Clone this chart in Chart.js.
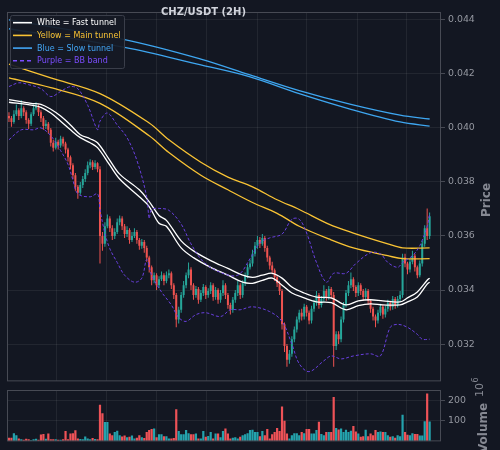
<!DOCTYPE html>
<html>
<head>
<meta charset="utf-8">
<script src="https://cdn.jsdelivr.net/npm/chart.js@4.4.1/dist/chart.umd.min.js"></script>
<style>
  html, body { margin: 0; padding: 0; background: #131722; }
  #wrap { position: relative; width: 500px; height: 450px; overflow: hidden; background: #131722; }
  #price-chart { position: absolute; left: 0; top: 0; }
  #volume-chart { position: absolute; left: 0; top: 368px; }
</style>
</head>
<body>
<div id="wrap">
  <canvas id="price-chart" width="500" height="390"></canvas>
  <canvas id="volume-chart" width="500" height="82"></canvas>
</div>
<script>
// Candles (CHZ/USDT, 2H), open of each candle = previous close
const firstOpen = 0.04044;
const closes = [
  0.04036, 0.04022, 0.04051, 0.04065, 0.04044, 0.04073, 0.04058, 0.04029, 0.04015, 0.04051,
  0.04073, 0.04080, 0.04058, 0.04036, 0.04007, 0.04015, 0.03993, 0.03945, 0.03927, 0.03949,
  0.03935, 0.03960, 0.03942, 0.03920, 0.03891, 0.03862, 0.03825, 0.03782, 0.03760, 0.03789,
  0.03811, 0.03833, 0.03862, 0.03873, 0.03855, 0.03869, 0.03847, 0.03600, 0.03571, 0.03636,
  0.03665, 0.03629, 0.03600, 0.03615, 0.03651, 0.03665, 0.03636, 0.03607, 0.03622, 0.03585,
  0.03600, 0.03615, 0.03585, 0.03564, 0.03578, 0.03556, 0.03520, 0.03484, 0.03436, 0.03455,
  0.03418, 0.03440, 0.03455, 0.03433, 0.03455, 0.03462, 0.03418, 0.03382, 0.03291, 0.03327,
  0.03382, 0.03418, 0.03455, 0.03476, 0.03418, 0.03382, 0.03404, 0.03364, 0.03389, 0.03411,
  0.03382, 0.03396, 0.03418, 0.03374, 0.03400, 0.03364, 0.03389, 0.03418, 0.03382, 0.03345,
  0.03327, 0.03364, 0.03389, 0.03418, 0.03382, 0.03425, 0.03455, 0.03484, 0.03498, 0.03534,
  0.03564, 0.03585, 0.03571, 0.03593, 0.03556, 0.03520, 0.03491, 0.03473, 0.03447, 0.03425,
  0.03396, 0.03273, 0.03193, 0.03142, 0.03164, 0.03218, 0.03254, 0.03291, 0.03316, 0.03302,
  0.03338, 0.03316, 0.03287, 0.03331, 0.03353, 0.03382, 0.03345, 0.03367, 0.03396, 0.03374,
  0.03404, 0.03382, 0.03193, 0.03236, 0.03218, 0.03291, 0.03345, 0.03389, 0.03418, 0.03440,
  0.03411, 0.03389, 0.03418, 0.03396, 0.03374, 0.03396, 0.03360, 0.03331, 0.03302, 0.03287,
  0.03316, 0.03338, 0.03309, 0.03331, 0.03353, 0.03338, 0.03367, 0.03345, 0.03367, 0.03382,
  0.03520, 0.03498, 0.03476, 0.03505, 0.03527, 0.03484, 0.03455, 0.03498, 0.03571, 0.03629,
  0.03600, 0.03673
];
const highs = [
  0.04058, 0.04044, 0.04065, 0.04087, 0.04073, 0.04102, 0.04080, 0.04065, 0.04036, 0.04058,
  0.04087, 0.04095, 0.04087, 0.04065, 0.04044, 0.04029, 0.04022, 0.04000, 0.03956, 0.03964,
  0.03956, 0.03971, 0.03967, 0.03949, 0.03927, 0.03898, 0.03869, 0.03833, 0.03789, 0.03800,
  0.03822, 0.03847, 0.03876, 0.03884, 0.03880, 0.03880, 0.03873, 0.03858, 0.03615, 0.03651,
  0.03680, 0.03673, 0.03640, 0.03629, 0.03665, 0.03676, 0.03673, 0.03644, 0.03636, 0.03629,
  0.03615, 0.03629, 0.03622, 0.03593, 0.03589, 0.03585, 0.03564, 0.03527, 0.03491, 0.03465,
  0.03462, 0.03451, 0.03469, 0.03462, 0.03469, 0.03476, 0.03469, 0.03425, 0.03389, 0.03338,
  0.03393, 0.03433, 0.03465, 0.03502, 0.03484, 0.03425, 0.03415, 0.03411, 0.03400, 0.03422,
  0.03418, 0.03407, 0.03429, 0.03425, 0.03411, 0.03407, 0.03400, 0.03436, 0.03425, 0.03389,
  0.03353, 0.03374, 0.03400, 0.03433, 0.03425, 0.03436, 0.03465, 0.03495, 0.03513, 0.03549,
  0.03578, 0.03600, 0.03596, 0.03607, 0.03600, 0.03564, 0.03527, 0.03505, 0.03480, 0.03455,
  0.03433, 0.03404, 0.03280, 0.03200, 0.03178, 0.03229, 0.03265, 0.03302, 0.03327, 0.03331,
  0.03349, 0.03345, 0.03324, 0.03342, 0.03364, 0.03396, 0.03389, 0.03378, 0.03418, 0.03404,
  0.03415, 0.03411, 0.03393, 0.03247, 0.03247, 0.03302, 0.03356, 0.03400, 0.03433, 0.03465,
  0.03447, 0.03418, 0.03429, 0.03425, 0.03404, 0.03407, 0.03404, 0.03367, 0.03338, 0.03309,
  0.03327, 0.03349, 0.03345, 0.03342, 0.03364, 0.03360, 0.03378, 0.03374, 0.03378, 0.03396,
  0.03534, 0.03534, 0.03505, 0.03516, 0.03545, 0.03534, 0.03491, 0.03509, 0.03582, 0.03640,
  0.03702, 0.03687
];
const lows = [
  0.04022, 0.04004, 0.04015, 0.04044, 0.04029, 0.04036, 0.04044, 0.04015, 0.03996, 0.04007,
  0.04044, 0.04065, 0.04044, 0.04022, 0.03993, 0.03996, 0.03978, 0.03931, 0.03913, 0.03920,
  0.03920, 0.03927, 0.03931, 0.03905, 0.03876, 0.03847, 0.03811, 0.03767, 0.03738, 0.03753,
  0.03778, 0.03800, 0.03825, 0.03851, 0.03844, 0.03847, 0.03836, 0.03498, 0.03545, 0.03560,
  0.03629, 0.03615, 0.03585, 0.03589, 0.03607, 0.03640, 0.03622, 0.03593, 0.03596, 0.03571,
  0.03578, 0.03593, 0.03571, 0.03549, 0.03553, 0.03538, 0.03505, 0.03465, 0.03418, 0.03425,
  0.03400, 0.03407, 0.03433, 0.03418, 0.03425, 0.03444, 0.03404, 0.03367, 0.03262, 0.03276,
  0.03316, 0.03371, 0.03407, 0.03444, 0.03400, 0.03364, 0.03371, 0.03349, 0.03356, 0.03378,
  0.03367, 0.03371, 0.03385, 0.03360, 0.03364, 0.03349, 0.03353, 0.03378, 0.03367, 0.03331,
  0.03309, 0.03316, 0.03353, 0.03378, 0.03367, 0.03371, 0.03415, 0.03444, 0.03476, 0.03487,
  0.03524, 0.03553, 0.03556, 0.03564, 0.03542, 0.03505, 0.03476, 0.03458, 0.03433, 0.03411,
  0.03382, 0.03254, 0.03171, 0.03116, 0.03127, 0.03153, 0.03207, 0.03243, 0.03280, 0.03287,
  0.03291, 0.03302, 0.03273, 0.03276, 0.03320, 0.03342, 0.03331, 0.03335, 0.03356, 0.03360,
  0.03364, 0.03367, 0.03116, 0.03178, 0.03200, 0.03207, 0.03280, 0.03335, 0.03378, 0.03407,
  0.03396, 0.03374, 0.03378, 0.03382, 0.03360, 0.03364, 0.03345, 0.03316, 0.03287, 0.03262,
  0.03276, 0.03305, 0.03294, 0.03298, 0.03320, 0.03324, 0.03327, 0.03331, 0.03335, 0.03356,
  0.03371, 0.03484, 0.03458, 0.03465, 0.03495, 0.03469, 0.03444, 0.03447, 0.03487, 0.03560,
  0.03585, 0.03589
];
// Volume in millions
const volumes = [
  17, 17, 40, 30, 14, 10, 8, 13, 10, 5,
  10, 13, 8, 33, 36, 13, 38, 10, 10, 10,
  8, 8, 10, 50, 10, 38, 40, 54, 14, 12,
  10, 24, 14, 10, 16, 12, 10, 178, 137, 94,
  94, 38, 30, 46, 52, 30, 24, 28, 20, 22,
  28, 14, 18, 30, 20, 16, 45, 55, 60, 62,
  20, 35, 35, 25, 25, 14, 14, 16, 156, 50,
  35, 35, 55, 40, 35, 35, 38, 14, 14, 50,
  22, 26, 46, 14, 38, 38, 20, 50, 62, 38,
  14, 18, 20, 14, 22, 30, 35, 40, 55, 57,
  46, 46, 25, 50, 30, 60, 14, 35, 46, 65,
  50, 170, 100, 38, 14, 30, 40, 40, 30, 46,
  40, 60, 60, 38, 38, 55, 96, 36, 30, 46,
  46, 46, 216, 65, 58, 62, 46, 56, 46, 52,
  75, 48, 38, 22, 25, 56, 25, 38, 30, 55,
  46, 48, 46, 46, 30, 22, 25, 18, 30, 25,
  130, 46, 32, 30, 40, 36, 36, 28, 28, 98,
  233, 97
];

// Fast tunnel (white): candle index and the two edges
const fastIdx = [0, 9, 13, 17, 21, 25, 29, 33, 36, 41, 45, 53, 57, 61, 64, 70, 75, 82, 89, 95, 99, 103, 107, 111, 115, 120, 125, 131, 137, 142, 147, 152, 159, 162, 166, 170, 171];
const fastHi = [0.04105, 0.04091, 0.04087, 0.04069, 0.04044, 0.04011, 0.03975, 0.03960, 0.03945, 0.03880, 0.03829, 0.03771, 0.03727, 0.03676, 0.03658, 0.03582, 0.03545, 0.03509, 0.03480, 0.03455, 0.03447, 0.03455, 0.03462, 0.03444, 0.03411, 0.03389, 0.03374, 0.03371, 0.03345, 0.03360, 0.03364, 0.03360, 0.03356, 0.03371, 0.03393, 0.03436, 0.03444];
const fastLo = [0.04095, 0.04084, 0.04076, 0.04055, 0.04025, 0.03993, 0.03964, 0.03945, 0.03927, 0.03862, 0.03811, 0.03745, 0.03709, 0.03647, 0.03636, 0.03556, 0.03520, 0.03484, 0.03455, 0.03429, 0.03425, 0.03436, 0.03444, 0.03418, 0.03389, 0.03371, 0.03356, 0.03353, 0.03327, 0.03342, 0.03349, 0.03345, 0.03345, 0.03356, 0.03374, 0.03422, 0.03429];

// Main tunnel (yellow)
const mainIdx = [0, 17, 37, 57, 65, 78, 89, 99, 109, 118, 130, 140, 154, 160, 171];
const mainHi = [0.04236, 0.04185, 0.04127, 0.04018, 0.03956, 0.03873, 0.03818, 0.03782, 0.03734, 0.03698, 0.03644, 0.03611, 0.03571, 0.03556, 0.03556];
const mainLo = [0.04185, 0.04149, 0.04091, 0.03971, 0.03909, 0.03825, 0.03771, 0.03724, 0.03684, 0.03636, 0.03589, 0.03556, 0.03527, 0.03516, 0.03516];

// Slow tunnel (blue)
const slowIdx = [0, 47, 78, 98, 118, 139, 159, 171];
const slowHi = [0.04400, 0.04327, 0.04255, 0.04196, 0.04138, 0.04087, 0.04047, 0.04033];
const slowLo = [0.04367, 0.04298, 0.04233, 0.04189, 0.04127, 0.04069, 0.04022, 0.04007];

// Bollinger band (purple, dashed)
const bbUpIdx = [0, 4, 8, 13, 17, 21, 25, 28, 32, 36, 37, 40, 44, 48, 52, 56, 57, 58, 61, 65, 70, 74, 79, 86, 93, 98, 102, 106, 111, 115, 118, 121, 125, 129, 132, 137, 141, 147, 151, 154, 158, 160, 164, 167, 170, 171];
const bbUpper = [0.04153, 0.04167, 0.04160, 0.04145, 0.04116, 0.04135, 0.04153, 0.04145, 0.04084, 0.03993, 0.04025, 0.04055, 0.04011, 0.03964, 0.03880, 0.03745, 0.03665, 0.03698, 0.03702, 0.03695, 0.03644, 0.03571, 0.03505, 0.03465, 0.03455, 0.03516, 0.03575, 0.03593, 0.03607, 0.03662, 0.03662, 0.03611, 0.03502, 0.03429, 0.03462, 0.03462, 0.03498, 0.03538, 0.03534, 0.03502, 0.03484, 0.03502, 0.03527, 0.03564, 0.03636, 0.03680];
const bbLowIdx = [0, 5, 10, 13, 17, 21, 24, 26, 28, 33, 36, 37, 39, 41, 44, 47, 51, 54, 56, 58, 62, 66, 69, 72, 76, 80, 86, 90, 94, 99, 106, 111, 115, 118, 122, 128, 131, 135, 140, 147, 151, 155, 158, 162, 166, 168, 171];
const bbLower = [0.03956, 0.03993, 0.03993, 0.04000, 0.03971, 0.03916, 0.03865, 0.03807, 0.03756, 0.03745, 0.03756, 0.03698, 0.03611, 0.03553, 0.03502, 0.03455, 0.03429, 0.03444, 0.03513, 0.03455, 0.03393, 0.03345, 0.03298, 0.03284, 0.03309, 0.03316, 0.03302, 0.03327, 0.03327, 0.03338, 0.03320, 0.03284, 0.03200, 0.03127, 0.03098, 0.03138, 0.03156, 0.03145, 0.03156, 0.03164, 0.03156, 0.03262, 0.03273, 0.03262, 0.03236, 0.03218, 0.03218];

// Axis ticks
const priceTicks = [0.032, 0.034, 0.036, 0.038, 0.040, 0.042, 0.044];
const volumeTicks = [100, 200];

// Chart colors
const colors = {
  bg: '#131722',
  up: '#26a69a',
  down: '#ef5350',
  volUp: '#24a3ad',
  volDown: '#ee5257',
  fast: '#ffffff',
  main: '#f9c334',
  slow: '#3ea6f0',
  bb: '#6a40e0',
  text: '#9598a1',
  label: '#868993',
  title: '#d1d4dc',
  grid: 'rgba(255, 255, 255, 0.065)',
  frame: '#474a54'
};

const legendItems = [
  { text: 'White = Fast tunnel', color: '#ffffff', dash: [] },
  { text: 'Yellow = Main tunnel', color: colors.main, dash: [] },
  { text: 'Blue = Slow tunnel', color: '#42a5f5', dash: [] },
  { text: 'Purple = BB band', color: '#7c4dff', dash: [4, 3] }
];

Chart.defaults.font.family = "'DejaVu Sans', sans-serif";
Chart.defaults.color = colors.text;

// x axis: candle index, 2.46 px per candle across a 434 px plot
const xMin = -0.8;
const xMax = xMin + 434 / 2.46;
const gridStep = 50 / 2.46;
const xGrid = [];
for (let k = 1; k <= 8; k++) xGrid.push(xMin + k * gridStep);

const opens = closes.map((c, i) => (i === 0 ? firstOpen : closes[i - 1]));
const isUp = closes.map((c, i) => c >= opens[i]);
const candleColors = isUp.map(u => (u ? colors.up : colors.down));
const volumeColors = isUp.map(u => (u ? colors.volUp : colors.volDown));

function lineSet(idx, values, color, width, dash) {
  return {
    type: 'line',
    data: idx.map((x, k) => ({ x: x, y: values[k] })),
    borderColor: color,
    borderWidth: width,
    borderDash: dash || [],
    pointRadius: 0,
    tension: 0.35,
    fill: false,
    order: 1
  };
}

function xScale() {
  return {
    type: 'linear',
    min: xMin,
    max: xMax,
    offset: false,
    grid: { offset: false, color: colors.grid, drawTicks: false },
    border: { display: false },
    ticks: { display: false },
    afterBuildTicks: (scale) => { scale.ticks = xGrid.map(v => ({ value: v })); },
    afterFit: (scale) => { scale.height = 0; }
  };
}

function drawRotated(ctx, text, x, y, font, color) {
  ctx.save();
  ctx.translate(x, y);
  ctx.rotate(-Math.PI / 2);
  ctx.font = font;
  ctx.fillStyle = color;
  ctx.textAlign = 'center';
  ctx.textBaseline = 'middle';
  ctx.fillText(text, 0, 0);
  ctx.restore();
}

// Frame, title, legend and axis label for the price panel
const priceDecor = {
  id: 'priceDecor',
  afterDraw(chart) {
    const ctx = chart.ctx;
    const a = chart.chartArea;
    ctx.save();
    ctx.strokeStyle = colors.frame;
    ctx.lineWidth = 1;
    ctx.strokeRect(a.left + 0.5, a.top + 0.5, a.right - a.left - 1, a.bottom - a.top - 1);

    ctx.font = "bold 10px 'DejaVu Sans'";
    ctx.fillStyle = colors.title;
    ctx.textAlign = 'center';
    ctx.textBaseline = 'alphabetic';
    ctx.fillText('CHZ/USDT (2H)', 203.5, 14.5);

    // legend box
    ctx.fillStyle = 'rgba(22, 26, 37, 0.92)';
    ctx.strokeStyle = '#3a3e4a';
    ctx.beginPath();
    ctx.roundRect(10.5, 15.5, 114, 53, 2);
    ctx.fill();
    ctx.stroke();
    ctx.font = "8px 'DejaVu Sans'";
    ctx.textAlign = 'left';
    ctx.textBaseline = 'middle';
    legendItems.forEach((item, k) => {
      const y = 22.7 + k * 12.7;
      ctx.strokeStyle = item.color;
      ctx.lineWidth = 1.6;
      ctx.setLineDash(item.dash);
      ctx.beginPath();
      ctx.moveTo(13, y);
      ctx.lineTo(32, y);
      ctx.stroke();
      ctx.setLineDash([]);
      ctx.fillStyle = item.color;
      ctx.fillText(item.text, 37, y + 0.5);
    });
    ctx.restore();

    drawRotated(ctx, 'Price', 487, 200, "bold 12px 'DejaVu Sans'", colors.label);
  }
};

// Frame and labels for the volume panel
const volumeDecor = {
  id: 'volumeDecor',
  afterDraw(chart) {
    const ctx = chart.ctx;
    const a = chart.chartArea;
    ctx.save();
    ctx.strokeStyle = colors.frame;
    ctx.lineWidth = 1;
    ctx.strokeRect(a.left + 0.5, a.top + 0.5, a.right - a.left - 1, a.bottom - a.top - 1);
    ctx.restore();

    drawRotated(ctx, 'Volume', 484, 60, "bold 12px 'DejaVu Sans'", colors.label);

    // offset text 10^6
    ctx.save();
    ctx.translate(483, 29);
    ctx.rotate(-Math.PI / 2);
    ctx.fillStyle = colors.label;
    ctx.textAlign = 'left';
    ctx.textBaseline = 'alphabetic';
    ctx.font = "11px 'DejaVu Sans'";
    ctx.fillText('10', 0, 0);
    const w = ctx.measureText('10').width;
    ctx.font = "8px 'DejaVu Sans'";
    ctx.fillText('6', w + 0.5, -5);
    ctx.restore();
  }
};

// Price panel
new Chart(document.getElementById('price-chart'), {
  type: 'bar',
  data: {
    datasets: [
      lineSet(bbUpIdx, bbUpper, colors.bb, 1, [3, 2]),
      lineSet(bbLowIdx, bbLower, colors.bb, 1, [3, 2]),
      lineSet(slowIdx, slowHi, colors.slow, 1.3),
      lineSet(slowIdx, slowLo, colors.slow, 1.3),
      lineSet(mainIdx, mainHi, colors.main, 1.3),
      lineSet(mainIdx, mainLo, colors.main, 1.3),
      lineSet(fastIdx, fastHi, colors.fast, 1.3),
      lineSet(fastIdx, fastLo, colors.fast, 1.3),
      {
        type: 'bar',
        data: closes.map((c, i) => ({ x: i, y: [opens[i], c] })),
        backgroundColor: candleColors,
        borderWidth: 0,
        barThickness: 2,
        grouped: false,
        inflateAmount: 0,
        order: 2
      },
      {
        type: 'bar',
        data: closes.map((c, i) => ({ x: i, y: [lows[i], highs[i]] })),
        backgroundColor: candleColors,
        borderWidth: 0,
        barThickness: 1,
        grouped: false,
        inflateAmount: 0,
        order: 3
      }
    ]
  },
  options: {
    responsive: false,
    animation: false,
    layout: { padding: { left: 7, top: 12, right: 0, bottom: 2 } },
    plugins: { legend: { display: false }, tooltip: { enabled: false } },
    scales: {
      x: xScale(),
      y: {
        position: 'right',
        min: 0.03062,
        max: 0.04429,
        grid: { color: colors.grid, tickColor: colors.frame, tickLength: 4 },
        border: { display: false },
        ticks: { color: colors.text, font: { size: 9.4 }, padding: 3, callback: v => v.toFixed(3) },
        afterBuildTicks: (scale) => { scale.ticks = priceTicks.map(v => ({ value: v })); },
        afterFit: (scale) => { scale.width = 59; }
      }
    }
  },
  plugins: [priceDecor]
});

// Volume panel
new Chart(document.getElementById('volume-chart'), {
  type: 'bar',
  data: {
    datasets: [{
      data: volumes.map((v, i) => ({ x: i, y: v })),
      backgroundColor: volumeColors,
      borderWidth: 0,
      barThickness: 2.2,
      grouped: false,
      inflateAmount: 0
    }]
  },
  options: {
    responsive: false,
    animation: false,
    layout: { padding: { left: 7, top: 22, right: 0, bottom: 7 } },
    plugins: { legend: { display: false }, tooltip: { enabled: false } },
    scales: {
      x: xScale(),
      y: {
        position: 'right',
        min: 0,
        max: 250,
        grid: { color: colors.grid, tickColor: colors.frame, tickLength: 4 },
        border: { display: false },
        ticks: { color: colors.text, font: { size: 9.4 }, padding: 3, callback: v => String(v) },
        afterBuildTicks: (scale) => { scale.ticks = volumeTicks.map(v => ({ value: v })); },
        afterFit: (scale) => { scale.width = 59; }
      }
    }
  },
  plugins: [volumeDecor]
});
</script>
</body>
</html>
